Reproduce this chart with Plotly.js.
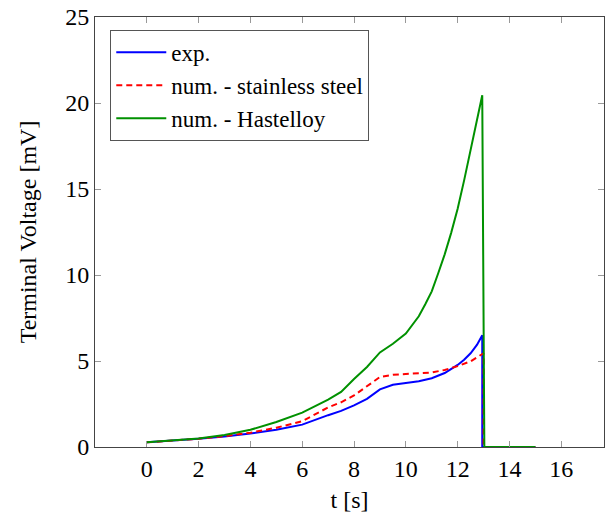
<!DOCTYPE html>
<html>
<head>
<meta charset="utf-8">
<script src="https://cdn.plot.ly/plotly-3.0.1.min.js"></script>
<style>html,body{margin:0;padding:0;background:#fff;}#chart{width:605px;height:522px;}</style>
</head>
<body>
<div id="chart"></div>
<script>
const expT = [0,1,2,3,4,5,6,7,7.5,8,8.5,9,9.5,10,10.5,11,11.5,12,12.25,12.5,12.75,12.95,12.95,15];
const expV = [0.27,0.36,0.48,0.61,0.78,1.0,1.3,1.85,2.1,2.42,2.8,3.35,3.62,3.72,3.82,4.0,4.3,4.77,5.07,5.45,5.95,6.5,0,0];
const ssT = [0,1,2,3,4,5,6,7,7.5,8,8.5,9,9.5,10,10.5,11,11.5,12,12.5,13,13,15];
const ssV = [0.27,0.36,0.48,0.63,0.83,1.12,1.5,2.3,2.6,3.0,3.55,4.07,4.2,4.24,4.26,4.33,4.48,4.7,4.98,5.45,0,0];
const haT = [0,1,2,3,4,5,6,7,7.5,8,8.5,9,9.5,10,10.5,10.75,11,11.25,11.5,11.75,12,12.25,12.5,12.75,12.95,13.03,15];
const haV = [0.27,0.37,0.5,0.7,1.0,1.45,2.0,2.75,3.2,3.95,4.65,5.5,6.0,6.6,7.6,8.3,9.05,10.1,11.2,12.45,13.85,15.5,17.3,19.0,20.45,0,0];
const names = ['exp.', 'num. - stainless steel', 'num. - Hastelloy'];
const xTicks = [0,2,4,6,8,10,12,14,16];
const yTicks = [0,5,10,15,20,25];

const font = {family: 'Times New Roman', size: 24, color: '#000'};
const legFont = {family: 'Times New Roman', size: 23, color: '#000'};
const traces = [
  {x: expT, y: expV, name: names[0], mode: 'lines', line: {color: '#0000ff', width: 2}},
  {x: ssT, y: ssV, name: names[1], mode: 'lines', line: {color: '#ff0000', width: 2, dash: '6px,4px'}},
  {x: haT, y: haV, name: names[2], mode: 'lines', line: {color: '#009100', width: 2}}
];
const axisCommon = {
  showgrid: false, zeroline: false, showline: true, linecolor: '#444', linewidth: 1,
  mirror: 'allticks', ticks: 'inside', ticklen: 6, tickcolor: '#999', tickwidth: 1,
  tickfont: font
};
const layout = {
  width: 605, height: 522,
  margin: {l: 95, r: 1, t: 17, b: 75},
  paper_bgcolor: '#fff', plot_bgcolor: '#fff',
  font: font,
  showlegend: true,
  xaxis: Object.assign({}, axisCommon, {
    range: [-2, 17.65], tickvals: xTicks, ticktext: xTicks.map(String),
    title: {text: 't [s]', font: font, standoff: 10}
  }),
  yaxis: Object.assign({}, axisCommon, {
    range: [0, 25], tickvals: yTicks, ticktext: yTicks.map(String),
    title: {text: 'Terminal Voltage [mV]', font: font, standoff: 21}
  }),
  legend: {
    x: 0.03, y: 0.97, xanchor: 'left', yanchor: 'top',
    bgcolor: '#fff', bordercolor: '#555', borderwidth: 1,
    font: legFont, tracegroupgap: 0, itemwidth: 50
  }
};
Plotly.newPlot('chart', traces, layout, {staticPlot: true});
</script>
</body>
</html>
